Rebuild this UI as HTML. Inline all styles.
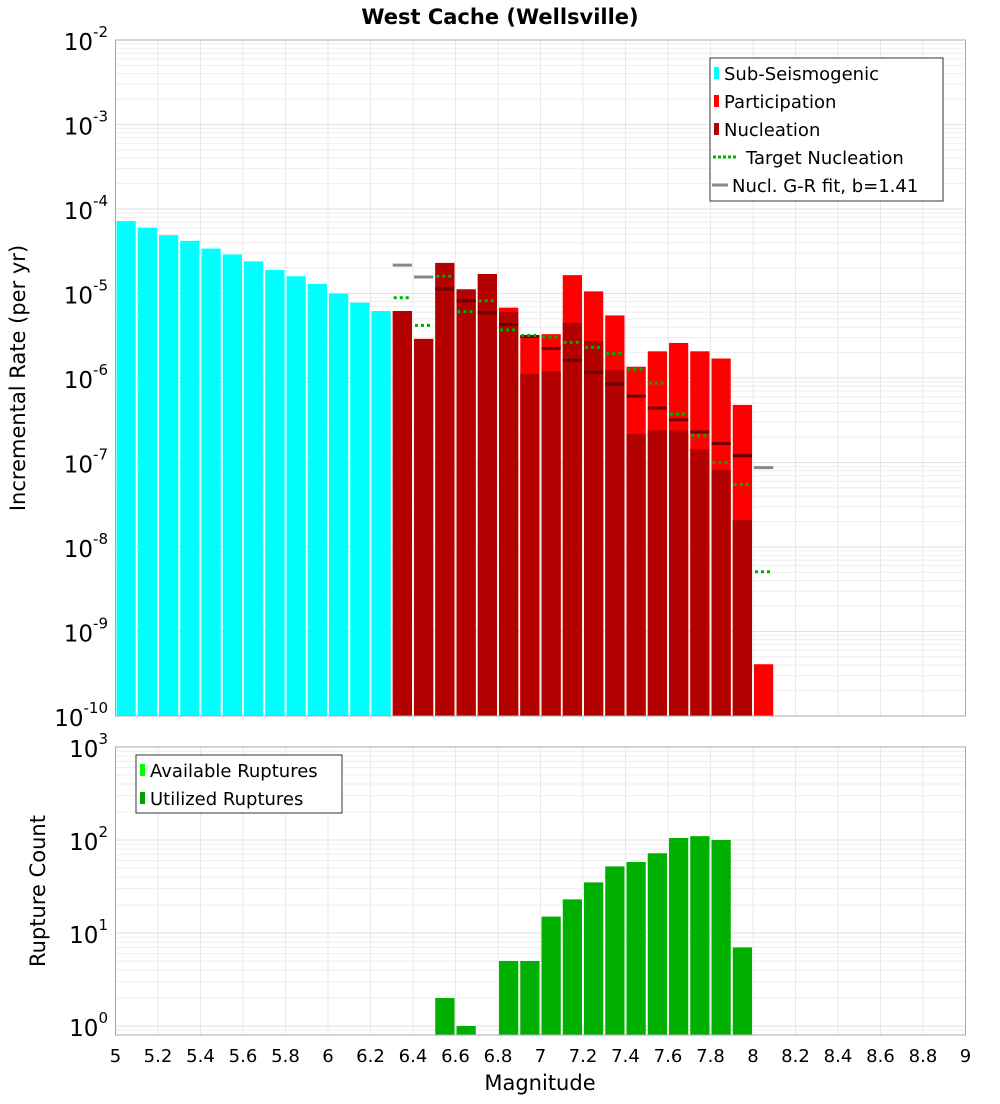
<!DOCTYPE html>
<html><head><meta charset="utf-8"><style>
body{margin:0;background:#fff;font-family:"DejaVu Sans","Liberation Sans",sans-serif;}
svg text{font-family:"DejaVu Sans","Liberation Sans",sans-serif;}
</style></head><body>
<svg id="c" width="1000" height="1100" xmlns="http://www.w3.org/2000/svg"></svg>
<script>
const binCenters=[5.05,5.15,5.25,5.35,5.45,5.55,5.65,5.75,5.85,5.95,6.05,6.15,6.25,6.35,6.45,6.55,6.65,6.75,6.85,6.95,7.05,7.15,7.25,7.35,7.45,7.55,7.65,7.75,7.85,7.95,8.05];
const subSeis=[7.2e-5,6.0e-5,4.9e-5,4.2e-5,3.4e-5,2.9e-5,2.4e-5,1.9e-5,1.6e-5,1.3e-5,1.0e-5,7.8e-6,6.2e-6,0,0,0,0,0,0,0,0,0,0,0,0,0,0,0,0,0,0];
const participation=[0,0,0,0,0,0,0,0,0,0,0,0,0,6.2e-6,2.9e-6,2.3e-5,1.12e-5,1.7e-5,6.8e-6,3.17e-6,3.3e-6,1.65e-5,1.06e-5,5.5e-6,1.36e-6,2.07e-6,2.6e-6,2.07e-6,1.7e-6,4.8e-7,4.1e-10];
const nucleation=[0,0,0,0,0,0,0,0,0,0,0,0,0,6.2e-6,2.9e-6,2.3e-5,1.12e-5,1.7e-5,6.0e-6,1.12e-6,1.2e-6,4.5e-6,2.74e-6,1.24e-6,2.17e-7,2.4e-7,2.4e-7,1.44e-7,8.2e-8,2.08e-8,0];
const targetNucl=[0,0,0,0,0,0,0,0,0,0,0,0,0,8.9e-6,4.2e-6,1.6e-5,6.1e-6,8.2e-6,3.7e-6,3.2e-6,3.05e-6,2.64e-6,2.3e-6,1.94e-6,1.27e-6,8.7e-7,3.75e-7,2.07e-7,1.0e-7,5.5e-8,5.1e-9];
const grFit=[0,0,0,0,0,0,0,0,0,0,0,0,0,2.17e-5,1.57e-5,1.13e-5,8.2e-6,5.9e-6,4.3e-6,3.1e-6,2.24e-6,1.62e-6,1.17e-6,8.5e-7,6.1e-7,4.4e-7,3.2e-7,2.3e-7,1.67e-7,1.2e-7,8.7e-8];
const ruptureCounts=[0,0,0,0,0,0,0,0,0,0,0,0,0,0,0,2,1,0,5,5,15,23,35,52,58,72,105,110,100,7,0];
const xTicks=[5,5.2,5.4,5.6,5.8,6,6.2,6.4,6.6,6.8,7,7.2,7.4,7.6,7.8,8,8.2,8.4,8.6,8.8,9];
const topExps=[-10,-9,-8,-7,-6,-5,-4,-3,-2];
const botExps=[0,1,2,3];

const NS="http://www.w3.org/2000/svg";const svg=document.getElementById('c');
function el(t,a,p){const e=document.createElementNS(NS,t);for(const k in a)e.setAttribute(k,a[k]);(p||svg).appendChild(e);return e;}
const X0=115.5,X1=965.5;
const xs=m=>X0+(m-5)/4*(X1-X0);
const T0=40,T1=716;const ys=v=>T0+(-2-Math.log10(v))/8*(T1-T0);
const B0=747,B1=1035;const yb=v=>B0+(3-Math.log10(v))*93;
const bw=(X1-X0)/40;

function grid(g,top,bot,yf,lo,hi){
  for(const t of xTicks){const l=el('line',{x1:xs(t),x2:xs(t),y1:top,y2:bot,stroke:'#e8e8e8'},g);}
  for(let e=lo;e<hi;e++)for(let k=1;k<10;k++){const y=yf(k*Math.pow(10,e));if(y<top-0.5||y>bot+0.5)continue;
    el('line',{x1:X0,x2:X1,y1:y,y2:y,stroke:k==1?'#e2e2e2':'#eeeeee'},g);}
}
// top panel
el('text',{x:500,y:24,'text-anchor':'middle','font-size':21,'font-weight':'bold',}).textContent='West Cache (Wellsville)';
const gt=el('g',{});
el('rect',{x:X0,y:T0,width:X1-X0,height:T1-T0,fill:'#fff'},gt);
grid(gt,T0,T1,ys,-10,-1);
binCenters.forEach((m,i)=>{
  const x=xs(m)-bw/2+1,w=bw-2;
  if(subSeis[i]>0){const r=el('rect',{x:x,y:ys(subSeis[i]),width:w,height:T1-ys(subSeis[i]),fill:'#00ffff'},gt);}
  if(participation[i]>0){const r=el('rect',{x:x,y:ys(participation[i]),width:w,height:T1-ys(participation[i]),fill:'#ff0000'},gt);}
  if(nucleation[i]>0){const r=el('rect',{x:x,y:ys(nucleation[i]),width:w,height:T1-ys(nucleation[i]),fill:'#b30000'},gt);}
});
binCenters.forEach((m,i)=>{
  const x=xs(m)-bw/2+1,w=bw-2;
  if(grFit[i]>0){const inside=grFit[i]<=participation[i];
    const l=el('line',{x1:x,x2:x+w,y1:ys(grFit[i]),y2:ys(grFit[i]),stroke:inside?'#6a0000':'#888888','stroke-width':3},gt);
    }
  if(targetNucl[i]>0){const l=el('line',{x1:x+1,x2:x+w-1,y1:ys(targetNucl[i]),y2:ys(targetNucl[i]),stroke:'#00b000','stroke-width':3,'stroke-dasharray':'3,3'},gt);
    }
});
el('rect',{x:X0,y:T0,width:X1-X0,height:T1-T0,fill:'none',stroke:'#aaa'},gt);
topExps.forEach(e=>{const t=el('text',{x:108,y:ys(Math.pow(10,e))+10,'text-anchor':'end','font-size':23,});
  t.innerHTML='10<tspan dy="-13" font-size="15">'+e+'</tspan>';});
el('text',{transform:'translate(25,378) rotate(-90)','text-anchor':'middle','font-size':21,}).textContent='Incremental Rate (per yr)';
// legend top
const lg=el('g',{});
el('rect',{x:710,y:58,width:233,height:143,fill:'#fff',stroke:'#333'},lg);
const items=[['Sub-Seismogenic','#00ffff','sq'],['Participation','#ff0000','sq'],['Nucleation','#b30000','sq'],['Target Nucleation','#00b000','dot'],['Nucl. G-R fit, b=1.41','#888','line']];
items.forEach((it,i)=>{const y=73+i*28;const g=el('g',{},lg);
  if(it[2]=='sq'){el('rect',{x:714,y:y-6,width:5,height:12,fill:it[1]},g);el('text',{x:724,y:y+7,'font-size':18},g).textContent=it[0];}
  else if(it[2]=='dot'){el('line',{x1:713,x2:738,y1:y,y2:y,stroke:it[1],'stroke-width':3,'stroke-dasharray':'3,2'},g);el('text',{x:746,y:y+7,'font-size':18},g).textContent=it[0];}
  else{el('line',{x1:712,x2:728,y1:y,y2:y,stroke:it[1],'stroke-width':3},g);el('text',{x:732,y:y+7,'font-size':18},g).textContent=it[0];}
});
// bottom panel
const gb=el('g',{});
el('rect',{x:X0,y:B0,width:X1-X0,height:B1-B0,fill:'#fff'},gb);
grid(gb,B0,B1,yb,-1,3);
binCenters.forEach((m,i)=>{if(ruptureCounts[i]>0){const x=xs(m)-bw/2+1;
  const r=el('rect',{x:x,y:yb(ruptureCounts[i]),width:bw-2,height:B1-yb(ruptureCounts[i]),fill:'#00b000'},gb);
  }});
el('rect',{x:X0,y:B0,width:X1-X0,height:B1-B0,fill:'none',stroke:'#aaa'},gb);
botExps.forEach(e=>{const t=el('text',{x:108,y:yb(Math.pow(10,e))+10,'text-anchor':'end','font-size':23,});
  t.innerHTML='10<tspan dy="-13" font-size="15">'+e+'</tspan>';});
el('text',{transform:'translate(45,891) rotate(-90)','text-anchor':'middle','font-size':21,}).textContent='Rupture Count';
const lb=el('g',{});
el('rect',{x:136,y:755,width:206,height:58,fill:'#fff',stroke:'#333'},lb);
[['Available Ruptures','#00ff00'],['Utilized Ruptures','#00a000']].forEach((it,i)=>{const y=770+i*28;const g=el('g',{},lb);
  el('rect',{x:140,y:y-6,width:5,height:12,fill:it[1]},g);el('text',{x:150,y:y+7,'font-size':18},g).textContent=it[0];});
xTicks.forEach(t=>{const tx=el('text',{x:xs(t),y:1062,'text-anchor':'middle','font-size':18,});tx.textContent=String(t);});
el('text',{x:540,y:1090,'text-anchor':'middle','font-size':21,}).textContent='Magnitude';
</script>
</body></html>
